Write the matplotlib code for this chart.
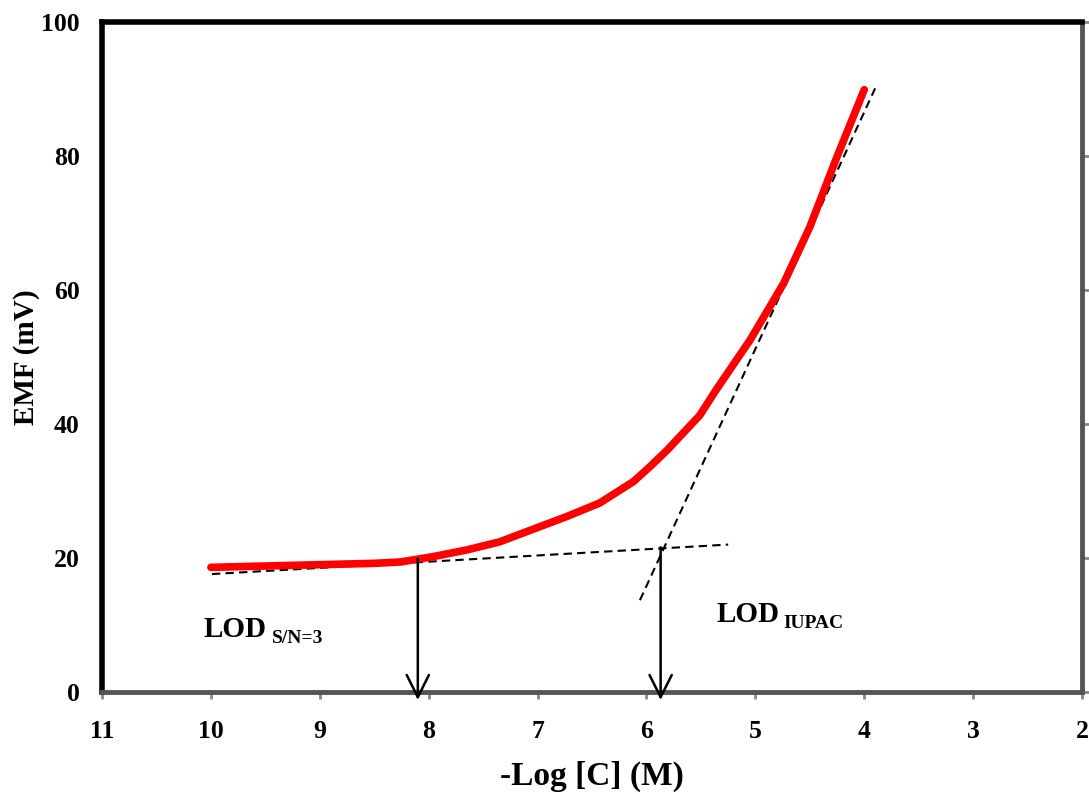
import matplotlib.pyplot as plt

plt.rcParams['font.family'] = 'Liberation Serif'
plt.rcParams['font.weight'] = 'bold'

# red response curve
log_c = [10.0, 9.5, 9.0, 8.5, 8.26, 7.96, 7.65, 7.35, 7.04, 6.73, 6.43, 6.12,
         5.97, 5.81, 5.51, 5.36, 5.05, 4.74, 4.5, 4.25, 4.0]
emf = [18.6, 18.8, 19.0, 19.2, 19.4, 20.2, 21.2, 22.4, 24.3, 26.2, 28.2, 31.4,
       33.6, 36.1, 41.3, 45.1, 52.5, 61.0, 69.4, 79.9, 89.9]

# dashed fit lines
flat_x = [9.99, 5.25]
flat_y = [17.6, 22.0]
steep_x = [6.06, 3.9]
steep_y = [13.7, 90.1]

# detection limits
lod_sn_x, lod_sn_y = 8.1, 19.9
lod_iu_x, lod_iu_y = 5.87, 21.6

x_ticks = [11, 10, 9, 8, 7, 6, 5, 4, 3, 2]
y_ticks = [0, 20, 40, 60, 80, 100]

fig = plt.figure(figsize=(10.89, 7.94), dpi=100)
ax = fig.add_axes([0.0937, 0.1285, 0.8999, 0.8438])

ax.plot(log_c, emf, color='red', lw=5.5, solid_capstyle='round',
        solid_joinstyle='round', zorder=3)
ax.plot(flat_x, flat_y, 'k--', lw=1.5, dashes=(4, 2.5))
ax.plot(steep_x, steep_y, 'k--', lw=1.5, dashes=(4, 2.5))

for xv, yv in [(lod_sn_x, lod_sn_y), (lod_iu_x, lod_iu_y)]:
    ax.annotate('', xy=(xv, -1.2), xytext=(xv, yv), annotation_clip=False,
                arrowprops=dict(arrowstyle='->', color='black', lw=1.8,
                                mutation_scale=40, shrinkA=0, shrinkB=0))

ax.text(10.07, 8.2, 'LOD', fontsize=21, va='baseline', ha='left')
ax.text(9.44, 7.3, 'S/N=3', fontsize=14, va='baseline', ha='left')
ax.text(5.36, 10.4, 'LOD', fontsize=21, va='baseline', ha='left')
ax.text(4.74, 9.5, 'IUPAC', fontsize=14, va='baseline', ha='left')

ax.set_xlim(11, 2)
ax.set_ylim(0, 100)
ax.set_xticks(x_ticks)
ax.set_yticks(y_ticks)
ax.tick_params(axis='x', direction='out', length=5, width=2, color='#888888',
               labelsize=18.5, pad=15)
ax.tick_params(axis='y', left=False, right=True, direction='out', length=5,
               width=2, color='#888888', labelsize=18.5, pad=11)

ax.spines['left'].set_linewidth(4)
ax.spines['top'].set_linewidth(4)
ax.spines['bottom'].set_linewidth(3.5)
ax.spines['bottom'].set_color('#555555')
ax.spines['right'].set_linewidth(3.5)
ax.spines['right'].set_color('#555555')

ax.set_xlabel('-Log [C] (M)', fontsize=24, fontweight='bold')
ax.set_ylabel('EMF (mV)', fontsize=21, fontweight='bold')
ax.xaxis.set_label_coords(0.5, -0.102)
ax.yaxis.set_label_coords(-0.0633, 0.5)

fig.savefig('out.png', dpi=100)
